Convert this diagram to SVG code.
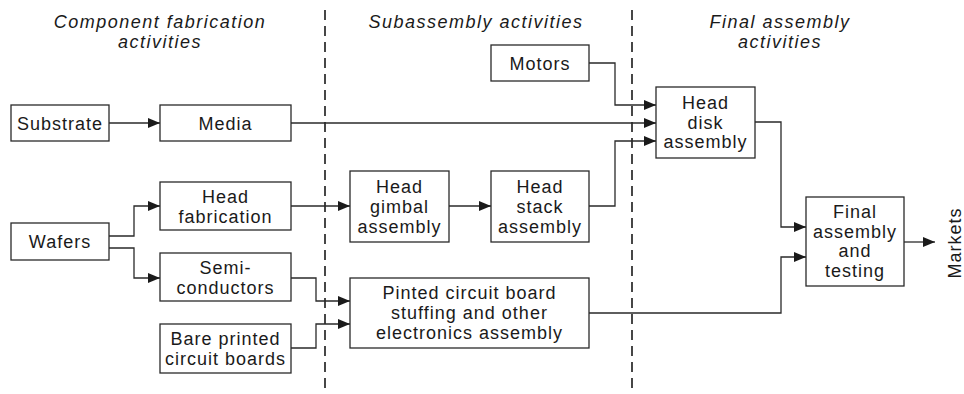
<svg xmlns="http://www.w3.org/2000/svg" width="964" height="394" viewBox="0 0 964 394">
<style>
.box{fill:#fff;stroke:#2a2a2a;stroke-width:1.3}
.t{font-family:"Liberation Sans",Arial,sans-serif;font-size:18px;fill:#1a1a1a;text-anchor:middle;letter-spacing:1px}
.h{font-family:"Liberation Sans",Arial,sans-serif;font-size:18px;font-style:italic;fill:#1a1a1a;text-anchor:middle;letter-spacing:1.5px}
.c{fill:none;stroke:#2a2a2a;stroke-width:1.3}
.d{fill:none;stroke:#1a1a1a;stroke-width:1.6;stroke-dasharray:10 6}
</style>
<defs>
<marker id="a" markerWidth="12" markerHeight="10" refX="12" refY="5" orient="auto" markerUnits="userSpaceOnUse">
<path d="M0,0 L12,5 L0,10 Z" fill="#1a1a1a"/>
</marker>
</defs>
<g id="headers">
<text class="h" x="160" y="28">Component fabrication</text>
<text class="h" x="160" y="48">activities</text>
<text class="h" x="476" y="28">Subassembly activities</text>
<text class="h" x="780" y="28">Final assembly</text>
<text class="h" x="780" y="48">activities</text>
</g>
<g id="dividers">
<line class="d" x1="325" y1="10" x2="325" y2="394"/>
<line class="d" x1="632" y1="10" x2="632" y2="394"/>
</g>
<g id="connectors">
<path class="c" d="M109,123 H160" marker-end="url(#a)"/>
<path class="c" d="M291,123 H656" marker-end="url(#a)"/>
<path class="c" d="M589,63 H615 V105 H656" marker-end="url(#a)"/>
<path class="c" d="M589,206 H615 V141 H656" marker-end="url(#a)"/>
<path class="c" d="M755,122 H781 V227 H806" marker-end="url(#a)"/>
<path class="c" d="M589,313 H781 V257 H806" marker-end="url(#a)"/>
<path class="c" d="M904,242 H935" marker-end="url(#a)"/>
<path class="c" d="M109,236 H134 V206 H160" marker-end="url(#a)"/>
<path class="c" d="M109,248 H134 V278 H160" marker-end="url(#a)"/>
<path class="c" d="M291,206 H350" marker-end="url(#a)"/>
<path class="c" d="M449,206 H491" marker-end="url(#a)"/>
<path class="c" d="M291,278 H316 V301 H350" marker-end="url(#a)"/>
<path class="c" d="M291,348 H316 V324 H350" marker-end="url(#a)"/>
</g>
<g id="substrate">
<rect class="box" x="11" y="105" width="98" height="36"/>
<text class="t" x="60" y="130">Substrate</text>
</g>
<g id="media">
<rect class="box" x="160" y="105" width="131" height="36"/>
<text class="t" x="225.5" y="130">Media</text>
</g>
<g id="wafers">
<rect class="box" x="11" y="223" width="98" height="37"/>
<text class="t" x="60" y="248">Wafers</text>
</g>
<g id="headfab">
<rect class="box" x="160" y="182" width="131" height="48"/>
<text class="t" x="225.5" y="203">Head</text>
<text class="t" x="225.5" y="223">fabrication</text>
</g>
<g id="semi">
<rect class="box" x="160" y="253" width="131" height="48"/>
<text class="t" x="225.5" y="274">Semi-</text>
<text class="t" x="225.5" y="294">conductors</text>
</g>
<g id="bare">
<rect class="box" x="160" y="324" width="131" height="49"/>
<text class="t" x="225.5" y="345">Bare printed</text>
<text class="t" x="225.5" y="365">circuit boards</text>
</g>
<g id="hga">
<rect class="box" x="350" y="171" width="99" height="71"/>
<text class="t" x="399.5" y="193">Head</text>
<text class="t" x="399.5" y="213">gimbal</text>
<text class="t" x="399.5" y="233">assembly</text>
</g>
<g id="hsa">
<rect class="box" x="491" y="171" width="98" height="71"/>
<text class="t" x="540" y="193">Head</text>
<text class="t" x="540" y="213">stack</text>
<text class="t" x="540" y="233">assembly</text>
</g>
<g id="pcb">
<rect class="box" x="350" y="278" width="239" height="70"/>
<text class="t" x="469.5" y="299">Pinted circuit board</text>
<text class="t" x="469.5" y="319">stuffing and other</text>
<text class="t" x="469.5" y="339">electronics assembly</text>
</g>
<g id="motors">
<rect class="box" x="491" y="45" width="98" height="36"/>
<text class="t" x="540" y="70">Motors</text>
</g>
<g id="hda">
<rect class="box" x="656" y="87" width="99" height="71"/>
<text class="t" x="705.5" y="109">Head</text>
<text class="t" x="705.5" y="129">disk</text>
<text class="t" x="705.5" y="148">assembly</text>
</g>
<g id="final">
<rect class="box" x="806" y="197" width="98" height="89"/>
<text class="t" x="855" y="218">Final</text>
<text class="t" x="855" y="238">assembly</text>
<text class="t" x="855" y="257">and</text>
<text class="t" x="855" y="277">testing</text>
</g>
<g id="markets">
<text class="t" transform="translate(961,243) rotate(-90)" x="0" y="0">Markets</text>
</g>
</svg>
